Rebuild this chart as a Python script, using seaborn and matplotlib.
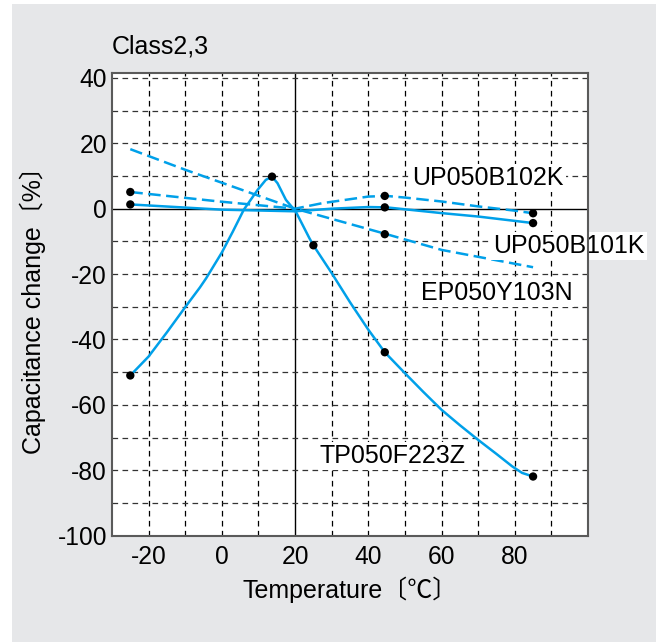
import numpy as np
import pandas as pd
import matplotlib
matplotlib.use("Agg")
import matplotlib.pyplot as plt
from matplotlib.patches import Rectangle
import seaborn as sns

# data
tp_x = [-25, -20, -15, -10, -6, -4.3, 0, 3, 6, 9.8, 12, 13.7, 15.2, 17.5, 20.2, 23.9, 25,
        30, 35, 40, 44.5, 50, 55, 60, 65, 70, 75, 79.3, 82, 85]
tp_y = [-51, -45.2, -37.8, -30.1, -24.1, -21.3, -13.4, -7, -0.3, 5.8, 8.8, 9.8, 7.8, 2.7, -0.9, -9, -11.2,
        -19.7, -28.6, -37, -43.9, -50.3, -56, -61.5, -66.2, -70.7, -75, -78.8, -80.8, -81.9]

ep_x = [-25, -10, 20, 45, 60, 85]
ep_y = [18.2, 11.9, 0, -7.8, -12.6, -17.9]

up102_x = [-25, -0.7, 20, 27.5, 40, 45, 50, 60, 70, 80, 85]
up102_y = [5.1, 2.2, 0, 1.7, 3.7, 3.9, 3.4, 2.2, 0.7, -0.6, -1.4]

up101_x = [-25, 0, 20, 30, 40, 45, 60, 70, 85]
up101_y = [1.3, -0.3, -0.8, 0, 0.5, 0.4, -1.35, -2.4, -4.4]

dot_x = [-25, -25, -25, 13.7, 25, 44.5, 44.5, 44.5, 44.5, 85, 85, 85]
dot_y = [5.1, 1.3, -51, 9.8, -11.2, 3.9, 0.4, -7.8, -43.9, -1.4, -4.4, -81.9]

labels = ["UP050B102K", "UP050B101K", "EP050Y103N", "TP050F223Z"]
label_x = [52, 74.1, 54.3, 26.8]
label_y = [7.3, -13.6, -27.9, -77.8]

x_ticks = [-20, 0, 20, 40, 60, 80]
y_ticks = [-100, -80, -60, -40, -20, 0, 20, 40]

sns.set_style("white")
plt.rcParams['font.family'] = ['Liberation Sans', 'Noto Sans CJK JP']
plt.rcParams['axes.unicode_minus'] = False
plt.rcParams['text.color'] = 'black'
plt.rcParams['axes.labelcolor'] = 'black'
plt.rcParams['xtick.color'] = 'black'
plt.rcParams['ytick.color'] = 'black'

blue = '#00a0e9'
fig = plt.figure(figsize=(6.56, 6.42), dpi=100, facecolor='white')
fig.patches.append(Rectangle((12 / 656, 0), 1, 638 / 642, transform=fig.transFigure,
                             facecolor='#e6e7e9', edgecolor='none', zorder=-10))
ax = fig.add_axes([112 / 656, 1 - 535.7 / 642, 476 / 656, 462.4 / 642])
ax.set_facecolor('white')

# grid every 10
for gx in range(-20, 100, 10):
    if gx == 20:
        ax.axvline(gx, color='black', lw=1.0, zorder=1)
    else:
        ax.axvline(gx, color='black', lw=0.9, ls=(0, (4.5, 3.5)), zorder=1)
for gy in range(-90, 41, 10):
    if gy == 0:
        ax.axhline(gy, color='black', lw=1.0, zorder=1)
    else:
        ax.axhline(gy, color='#333333', lw=0.9, ls=(0, (4.5, 3.5)), zorder=1)

dash = (0, (5, 2.2))
sns.lineplot(x=tp_x, y=tp_y, ax=ax, color=blue, lw=1.8, zorder=3)
sns.lineplot(x=up101_x, y=up101_y, ax=ax, color=blue, lw=1.8, zorder=3)
sns.lineplot(x=ep_x, y=ep_y, ax=ax, color=blue, lw=1.8, linestyle=dash, zorder=3)
sns.lineplot(x=up102_x, y=up102_y, ax=ax, color=blue, lw=1.8, linestyle=dash, zorder=3)
sns.scatterplot(x=dot_x, y=dot_y, ax=ax, color='black', s=36, edgecolor='none', zorder=4)

for lab, lx, ly in zip(labels, label_x, label_y):
    t = ax.text(lx, ly, lab, fontsize=18, ha='left', va='baseline', zorder=5,
                bbox=dict(facecolor='white', edgecolor='none', pad=1.5))
    t.get_bbox_patch().set_clip_path(ax.patch)

ax.set_xlim(-30, 100)
ax.set_ylim(-100, 41.4)
ax.set_xticks(x_ticks)
ax.set_yticks(y_ticks)
ax.tick_params(axis='x', length=0, pad=6.5, labelsize=17.7)
ax.tick_params(axis='y', length=0, pad=3.6, labelsize=17.7)
for sp in ax.spines.values():
    sp.set_color('#5a5a5a')
    sp.set_linewidth(1.5)
    sp.set_zorder(6)

ax.set_xlabel('Temperature〔℃〕', fontsize=18)
ax.set_ylabel('Capacitance change〔%〕', fontsize=18)
ax.xaxis.set_label_coords(0.5, -0.089)
ax.yaxis.set_label_coords(-0.139, 0.5)
ax.text(0, 1.043, 'Class2,3', transform=ax.transAxes, fontsize=18, ha='left', va='baseline')

plt.savefig('out.png', dpi=100, facecolor=fig.get_facecolor())
